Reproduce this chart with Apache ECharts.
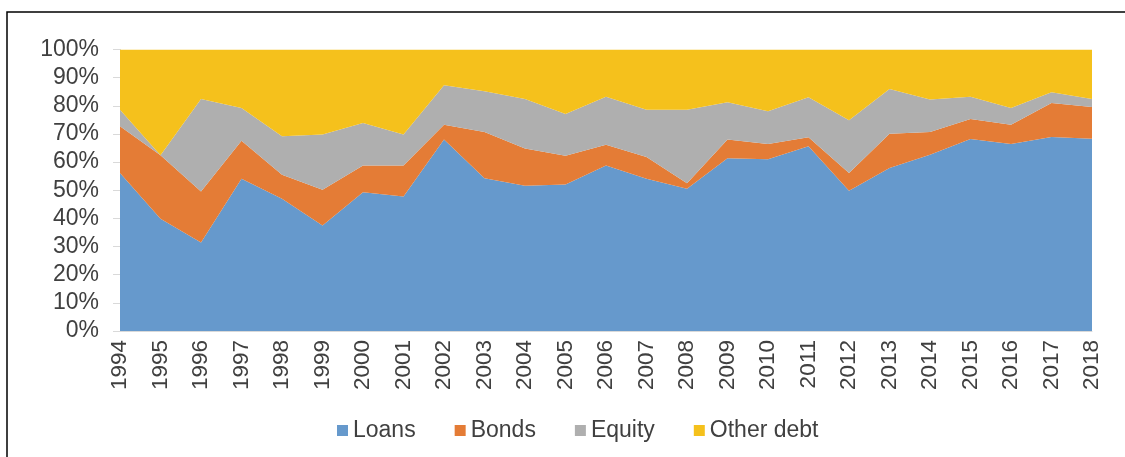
<!DOCTYPE html>
<html>
<head>
<meta charset="utf-8">
<script src="https://cdn.jsdelivr.net/npm/echarts@6/dist/echarts.min.js"></script>
<style>
  html, body { margin: 0; padding: 0; background: #fff; }
  #chart { width: 1125px; height: 457px; }
</style>
</head>
<body>
<div id="chart"></div>
<script>
// years on the x axis
var years = ['1994','1995','1996','1997','1998','1999','2000','2001','2002','2003','2004','2005',
  '2006','2007','2008','2009','2010','2011','2012','2013','2014','2015','2016','2017','2018'];

// shares in %
var loans  = [56.1,39.9,31.4,54.1,47.0,37.5,49.3,47.8,68.0,54.3,51.6,52.0,58.8,54.1,50.5,61.4,61.0,65.6,49.8,57.9,62.6,68.2,66.4,68.9,68.3];
var bonds  = [16.6,22.5,18.2,13.5,8.5,12.7,9.5,11.0,5.3,16.4,13.2,10.3,7.4,7.7,2.0,6.6,5.4,3.2,6.3,12.2,8.1,7.1,6.9,12.1,11.3];
var equity = [5.9,0.0,32.8,11.6,13.7,19.6,15.1,11.0,14.0,14.5,17.6,14.8,17.0,16.8,26.1,13.3,11.7,14.2,18.8,15.9,11.5,7.9,5.9,3.8,2.8];
var other  = [21.4,37.6,17.6,20.8,30.8,30.2,26.1,30.2,12.7,14.8,17.6,22.9,16.8,21.4,21.4,18.7,21.9,17.0,25.1,14.0,17.8,16.8,20.8,15.2,17.6];

var names  = ['Loans','Bonds','Equity','Other debt'];
var colors = ['#6699cc','#e47c36','#afafaf','#f5c11c'];
var values = [loans, bonds, equity, other];

var font = 'Liberation Sans, Arial, sans-serif';
var txt = '#404040';

var chart = echarts.init(document.getElementById('chart'));

// one stacked area per component
var series = names.map(function (n, i) {
  return {
    name: n,
    type: 'line',
    stack: 'total',
    data: values[i],
    showSymbol: false,
    symbol: 'none',
    lineStyle: { width: 0 },
    areaStyle: { color: colors[i], opacity: 1 },
    itemStyle: { color: colors[i] },
    emphasis: { disabled: true }
  };
});

chart.setOption({
  animation: false,
  grid: { left: 120, right: 33, top: 49.5, bottom: 126 },
  legend: {
    data: names,
    left: 332,
    top: 414,
    itemWidth: 11,
    itemHeight: 11,
    itemGap: 39,
    icon: 'rect',
    textStyle: { fontFamily: font, fontSize: 23, color: txt }
  },
  xAxis: {
    type: 'category',
    data: years,
    boundaryGap: false,
    axisLine: { lineStyle: { color: '#d9d9d9' } },
    axisTick: { show: false },
    axisLabel: { rotate: 90, margin: 9, fontFamily: font, fontSize: 22.5, color: txt }
  },
  yAxis: {
    type: 'value',
    min: 0,
    max: 100,
    interval: 10,
    axisLine: { show: true, lineStyle: { color: '#d9d9d9' } },
    axisTick: { show: true, length: 7, lineStyle: { color: '#d9d9d9' } },
    splitLine: { show: false },
    axisLabel: { formatter: '{value}%', margin: 21, fontFamily: font, fontSize: 23, color: txt }
  },
  graphic: [{
    type: 'polyline',
    shape: { points: [[7, 457], [7, 12], [1125, 12]] },
    style: { stroke: '#000', lineWidth: 1.5, fill: null },
    silent: true
  }],
  series: series
});
</script>
</body>
</html>
